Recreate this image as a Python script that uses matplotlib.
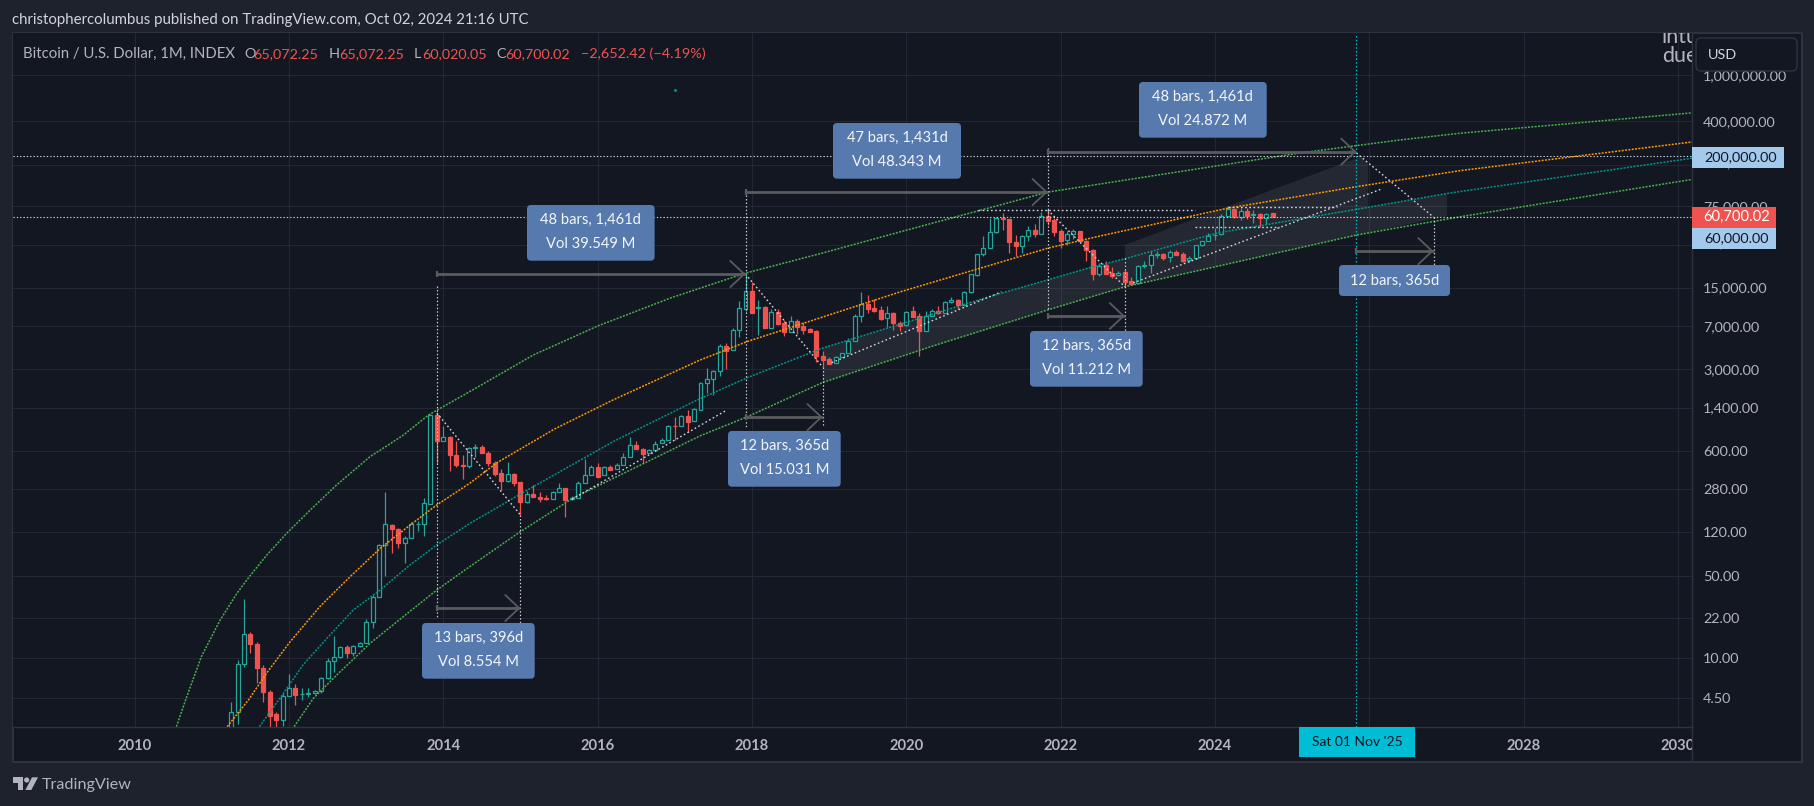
import matplotlib
matplotlib.use("Agg")
import matplotlib.pyplot as plt
from matplotlib.patches import Rectangle, FancyBboxPatch, Polygon, Circle
from matplotlib.transforms import ScaledTranslation

FONT = "Lato"
plt.rcParams["font.family"] = [FONT, "DejaVu Sans"]

# Monthly candles, first bar Apr 2011 (bar index -9, Jan 2012 = 0); one row per year
first_bar = -9
opens = [0.79,3.45,8.8,16,13.2,8.2,5.1,3.3,2.95,
 4.7,5.5,4.87,4.9,4.95,5.15,6.7,9.4,10.2,12.4,11.1,12.6,
 13.5,20.4,33,93,139,128,97,106,140,141,210,1210,
 729,790,544,450,445,626,640,575,472,385,329,375,
 320,216,252,239,233,229,263,285,230,236,314,372,
 430,367,437,414,447,525,670,622,570,610,690,740,
 975,970,1190,1070,1340,2300,2450,2890,4730,4350,6500,9870,
 13980,10100,10300,6800,9180,7400,6270,7700,7000,6600,6300,3900,
 3680,3400,3800,4100,5200,8570,10780,9950,9600,8300,9050,7500,
 7100,9350,8550,6400,8600,9450,9100,11300,11650,10700,13700,19400,
 29000,33000,45000,58800,57800,36700,34300,41400,47000,43600,61500,57000,
 46300,38500,43000,45500,37700,31800,19700,23300,20000,19400,20500,17200,
 16500,23100,23400,28400,29200,27200,30500,29200,25900,26900,34600,37700,
 42300,43000,61500,71000,60500,67700,62700,64700,58900,65072.25]
highs = [4.17,9.6,32,16.6,13.6,8.7,5.3,3.4,4.95,
 7.3,6.0,5.5,5.5,5.25,6.8,9.9,15.4,12.6,12.9,12.9,13.7,
 21.5,34.3,95,264,141,130,111,145,150,233,1230,1230,
 983,800,729,547,640,683,666,590,490,420,475,385,
 325,270,304,263,247,270,314,285,245,330,505,450,
 470,445,450,470,570,780,720,630,620,730,770,1000,
 1155,1200,1330,1390,2320,3040,2950,4950,5030,6700,11500,19590,
 16800,11700,10500,9800,9900,7900,8540,8000,7540,6800,6500,4290,
 3800,3850,4150,5500,8900,13740,12950,12000,10500,10400,9300,7700,
 9500,10500,9000,9500,9900,10400,11400,12500,12000,13900,19800,29300,
 41500,59600,61000,65100,58500,42000,42000,50500,52800,66300,69300,59000,
 47500,45700,48000,46000,38500,32300,24300,25300,22500,20900,21400,18400,
 23300,25300,30800,30700,29700,31300,31500,30200,28000,35100,38000,44000,
 48500,64000,74700,72500,72000,71800,69900,65500,66000,65072.25]
lows = [2.4,2.7,8.4,11,6.1,4.2,2.3,2.3,2.6,
 4.7,3.9,4.35,4.6,4.9,5.0,6.6,7.6,10,9.9,10.4,12.4,
 13.4,18,33,50.6,80,88,65,106,123,111,210,466,
 729,404,435,344,422,525,568,442,365,275,320,300,
 168,212,239,215,228,229,263,162,228,236,314,372,
 358,367,405,414,447,525,615,470,570,610,690,740,
 735,970,870,1070,1340,1860,1800,2600,3000,4350,5620,9400,
 9000,5880,6750,6800,7200,5740,6270,5980,6000,6200,3480,3150,
 3340,3400,3800,4100,5200,7540,9140,9300,7900,6900,6500,6400,
 7000,8450,3900,6400,8500,8900,9000,11000,9800,10500,13500,19000,
 28000,33000,44500,46800,29900,28000,29500,37500,40400,43400,51500,41500,
 32700,34500,39000,37000,25300,17400,19000,19500,18000,18900,15200,16000,
 16300,21900,19900,26800,25900,24900,28300,25000,24900,26500,34400,37500,
 38500,42000,60000,59600,57000,58500,54000,49900,53000,60020.05]
closes = [3.45,8.8,16,13.2,8.1,5.1,3.2,2.93,4.7,
 5.5,4.8,4.9,5.0,5.18,6.7,9.4,10.2,12.4,11.1,12.6,13.5,
 20.2,33,92.3,140,128,97,106,140,141,211,1210,729,
 790,544,450,445,626,640,573,472,380,329,375,314,
 215,252,239,230,230,263,285,226,237,314,372,430,
 358,437,410,447,525,665,615,560,608,688,740,975,
 965,1190,1060,1350,2300,2450,2890,4730,4290,6500,9950,13980,
 9120,10200,6750,9180,7280,6270,7700,6920,6510,6200,3880,3570,
 3340,3780,4100,5200,8590,10780,9820,9450,8000,9030,7400,7020,
 9300,8450,6340,8590,9390,9030,11200,11650,10680,13640,19470,28900,
 32900,44700,59600,57600,37000,34300,41200,46600,43200,61300,56300,45300,
 37600,42900,45800,37600,31200,19600,23100,19700,18900,20100,16700,16200,
 23000,23400,28300,29200,26900,30400,28500,25300,26700,34600,37400,41700,
 42600,61600,70600,60000,67700,62000,64500,59000,63600,60700.02]

# Fitted curves (bar index, price)
top_x = [-17.5,-15.9,-13.6,-10.7,-8.1,-6.3,-3.5,-0.36,3.3,7.4,12.6,17.8,21.7,28.1,38,48,59.5,71,83,95,118,130.3,157.2,172.8,182.1,218.2]
top_p = [2.57,4.64,10.3,21.1,35.7,48.6,75.6,117,185,304,531,814,1211,1920,3960,7020,12300,19950,29700,45000,98800,126000,214000,277000,316000,473000]
orange_x = [-9.6,-6.3,-3.5,0.16,4.8,9.5,14.2,18.8,23,28.1,32.3,41.3,50.4,63.9,71.2,95,118.1,126.1,145.8,166,182.1,218.2]
orange_p = [2.57,4.35,7.36,13.7,27.5,49.6,87,137,205,314,470,918,1630,3580,5150,13750,32750,41500,71600,110000,151000,266000]
teal_x = [-4.6,-1.4,2.2,5.9,10,14.2,18.8,23,28.1,37.9,50.7,63.5,71.2,83,108,125,130,144.3,166,180.6,218.2]
teal_p = [2.57,4.5,8.7,14.7,25.7,38.2,62.5,93,142,292,729,1630,2520,4540,12100,22600,26500,44000,70400,97200,193000]
low_x = [0.8,3.8,7.4,12.6,17.8,23,28.1,35.9,44.2,63.9,71.2,83,100.5,118,130,141.7,166,182.1,218.2]
low_p = [2.57,4.5,7.1,13.3,22.6,38.2,60.5,120,235,800,1165,2300,4800,9640,15240,21150,42300,60700,127000]

# Shaded channels
band_a_x = [130,166.6,167.8,167.8,144.3,130]
band_a_p = [34800,198000,176000,72000,44000,26500]
band_b_x = [130,144.3,166,180.1,180.1,166,141.7,130]
band_b_p = [26500,44000,70400,96000,61500,42300,21150,15240]
band_c_x = [83,108,125,130,130,118,100.5,83]
band_c_p = [4540,12100,22600,26500,15240,9640,4800,2300]

# Date-range arrows (start bar, end bar, price)
arrows = [(23,36,26.7),(23,71,19600),(71,83,1160),(71,118,98900),(118,130,8560),(118,166,220000),(166,178,30800)]
# Vertical dotted guides (bar, price from, price to)
guides = [(23,15400,22.4),(71,93100,955),(118,236000,9620),(83,3120,973),(36,168,17.4),(130,26800,5900),(178,60400,21150)]
# Dotted segments (bar, price, bar, price)
segments = [(23,1260,36,168),(71,19600,83,3120),(118,69300,130,15240),(166,214000,178,60400),
            (44,229,68.1,1335),(84.4,3400,110.8,13800),(131.3,16450,169.9,105000),
            (107.2,69300,140.9,69300),(146,74000,163,74000),(140.9,49300,153.9,49300)]
h_levels = [200000,60000]
marker_bar = 166
stray_bar, stray_price = 60, 745000

# Measure labels (text, left, top, right, bottom px)
boxes = [("48 bars, 1,461d","Vol 39.549 M",527,205,654.6,260.7),
         ("13 bars, 396d","Vol 8.554 M",422,623,534.7,678.7),
         ("12 bars, 365d","Vol 15.031 M",728,431,840.7,486.7),
         ("47 bars, 1,431d","Vol 48.343 M",833,123,961,178.7),
         ("48 bars, 1,461d","Vol 24.872 M",1139,82,1266.7,137.7),
         ("12 bars, 365d","Vol 11.212 M",1030,331,1142.7,386.7),
         ("12 bars, 365d",None,1339,265,1450,296)]

price_ticks = [4.5,10,22,50,120,280,600,1400,3000,7000,15000,35000,75000,170000,400000,1000000]
year_ticks = [-24,0,24,48,72,96,120,144,168,192,216]
year_labels = ["2010","2012","2014","2016","2018","2020","2022","2024","2026","2028","2030"]

W, H = 1815, 806
BG, PANEL, GRID, LINE = "#1e222d", "#131722", "#232733", "#2f3340"
TEAL, RED = "#26a69a", "#ef5350"
fig = plt.figure(figsize=(W/100, H/100), dpi=100, facecolor=BG)

def fx(x): return x/W
def fy(y): return 1-y/H
def frect(x0,y0,x1,y1,**k):
    r = Rectangle((fx(x0),fy(y1)),(x1-x0)/W,(y1-y0)/H,transform=fig.transFigure,**k)
    fig.add_artist(r); return r

frect(13,33,1802,762,facecolor=PANEL,edgecolor=LINE,lw=1.4,zorder=-1)
ax = fig.add_axes([fx(13),fy(727),(1692-13)/W,(727-33)/H],facecolor=PANEL)
ax.set_yscale("log")
ax.set_xlim(-42.92,218.2)
ax.set_ylim(2.55,2.29e6)
for s in ("top","left"): ax.spines[s].set_visible(False)
for s in ("right","bottom"):
    ax.spines[s].set_color(LINE); ax.spines[s].set_linewidth(1)
ax.set_yticks(price_ticks)
ax.set_yticklabels([f"{v:,.2f}" for v in price_ticks])
ax.minorticks_off()
ax.set_xticks(year_ticks); ax.set_xticklabels(year_labels)
ax.yaxis.tick_right()
ax.tick_params(axis="y",length=0,pad=7.9,labelsize=10.4,labelcolor="#b2b5be")
ax.tick_params(axis="x",length=0,pad=9,labelsize=10.6,labelcolor="#b2b5be")
for t in ax.get_xticklabels(): t.set_fontweight("bold")
for t in ax.get_yticklabels(): t.set_ha("left")
# the two labels tucked behind the price tags sit a little higher
for tick,v in zip(ax.yaxis.get_major_ticks(),price_ticks):
    if v in (35000,170000):
        tick.label2.set_transform(tick.label2.get_transform()+ScaledTranslation(0,2.5/100,fig.dpi_scale_trans))
ax.grid(True,color=GRID,lw=0.8)
ax.set_axisbelow(True)

# bands
for bx,bp in ((band_a_x,band_a_p),(band_b_x,band_b_p),(band_c_x,band_c_p)):
    ax.fill(bx,bp,facecolor="#ffffff",alpha=0.075,edgecolor="none",zorder=1.2)

# candles
bars = list(range(first_bar,first_bar+len(opens)))
for i,o,h,l,c in zip(bars,opens,highs,lows,closes):
    up = c>=o
    col = TEAL if up else RED
    ax.vlines(i,l,h,color=col,lw=0.9,zorder=2.5)
    ax.bar(i,abs(c-o),bottom=min(o,c),width=0.62,
           facecolor=PANEL if up else RED,edgecolor=col,lw=0.9,zorder=2.6)

# curves
dash=(0,(1.3,0.9))
ax.plot(top_x,top_p,color="#4caf50",lw=1.1,ls=dash,zorder=3)
ax.plot(orange_x,orange_p,color="#ff9800",lw=1.1,ls=dash,zorder=3)
ax.plot(teal_x,teal_p,color="#009688",lw=1.1,ls=dash,zorder=3)
ax.plot(low_x,low_p,color="#4caf50",lw=1.1,ls=dash,zorder=3)

# dotted guides
dot=(0,(1.2,1.8))
WH="#d1d4dc"
for lv in h_levels:
    ax.axhline(lv,color=WH,lw=0.8,ls=dot,zorder=3.2)
ax.axvline(marker_bar,color="#00bcd4",lw=0.9,ls=dot,zorder=3.2)
for b,p0,p1 in guides:
    ax.plot([b,b],[p0,p1],color=WH,lw=0.85,ls=dot,zorder=3.2)
for a,pa,b,pb in segments:
    ax.plot([a,b],[pa,pb],color=WH,lw=1.0,ls=dot,zorder=3.2)

# arrows
AC="#595b5e"
for a,b,p in arrows:
    ax.plot([a,b],[p,p],color=AC,lw=2.0,solid_capstyle="butt",zorder=3.4)
    ax.plot([a],[p],marker="|",ms=4,mew=1.6,color=AC,zorder=3.4)
    ax.annotate("",xy=(b,p),xytext=(b-1,p),
        arrowprops=dict(arrowstyle="->,head_length=10,head_width=9.4",mutation_scale=1,
                        color=AC,lw=1.3,shrinkA=0,shrinkB=0),zorder=3.4)

ax.plot([stray_bar],[stray_price],ls="none",marker="s",ms=1,color="#009688",zorder=3)

# watermark text inside chart, clipped by pane
for s,yy in (("intuit",43),("due",62)):
    t=ax.text(fx(1662),fy(yy),s,transform=fig.transFigure,fontsize=15.5,color="#b2b5be",
              va="baseline",ha="left",clip_on=True,zorder=3)
    t.set_clip_path(ax.patch)

# measure boxes
def ftext(x,y,s,**k):
    k.setdefault("va","center"); k.setdefault("zorder",8)
    return fig.text(fx(x),fy(y),s,**k)
for l1,l2,x0,y0,x1,y1 in boxes:
    r=FancyBboxPatch((x0+3,H-y1+3),x1-x0-6,y1-y0-6,boxstyle="round,pad=3,rounding_size=4",
        transform=None,facecolor="#5679ae",edgecolor="none",zorder=7)
    fig.add_artist(r)
    cx=(x0+x1)/2
    if l2:
        ftext(cx,y0+15,l1,color="#f4f6fa",fontsize=10.6,ha="center")
        ftext(cx,y0+39,l2,color="#f4f6fa",fontsize=10.6,ha="center")
    else:
        ftext(cx,(y0+y1)/2,l1,color="#f4f6fa",fontsize=10.6,ha="center")

# price pane overlays
frect(1692.5,728,1801,761,facecolor=PANEL,edgecolor="none",zorder=5)
fig.add_artist(plt.Line2D([fx(1692)]*2,[fy(727),fy(762)],color=LINE,lw=1,zorder=5.5))
frect(1692,146.7,1784,168,facecolor="#a3c9ec",edgecolor="none",zorder=6)
ftext(1704,157.3,"200,000.00",color="#131722",fontsize=10.4)
frect(1692,228,1776,249,facecolor="#a3c9ec",edgecolor="none",zorder=6)
ftext(1704,238,"60,000.00",color="#131722",fontsize=10.4)
frect(1692,207,1776,228,facecolor=RED,edgecolor="none",zorder=6)
ftext(1703,217.3,"60,700.02",color="#ffffff",fontsize=10.6)
fig.add_artist(FancyBboxPatch((1699,H-68),95,27,boxstyle="round,pad=3,rounding_size=5",transform=None,
    facecolor=PANEL,edgecolor=LINE,lw=1,zorder=6))
ftext(1708,55,"USD",color="#d1d4dc",fontsize=10.4)

# date tag
frect(1299,727,1415,757,facecolor="#00bcd4",edgecolor="none",zorder=6)
ftext(1357,742,"Sat 01 Nov '25",color="#131722",fontsize=10.0,ha="center")

# header and legend
ftext(12,20,"christophercolumbus published on TradingView.com, Oct 02, 2024 21:16 UTC",color="#d1d4dc",fontsize=10.85)
GR,R="#b2b5be",RED
ftext(23,53.7,"Bitcoin / U.S. Dollar, 1M, INDEX",color=GR,fontsize=10.7)
for x,s,c in ((244,"O",GR),(253.6,"65,072.25",R),(329,"H",GR),(339,"65,072.25",R),
              (414,"L",GR),(422,"60,020.05",R),(496,"C",GR),(505.6,"60,700.02",R),(580.6,"−2,652.42 (−4.19%)",R)):
    ftext(x,53.7,s,color=c,fontsize=10.4)

# footer logo
P=lambda pts:[(fx(a/3),fy(760+b/3)) for a,b in pts]
LG="#b2b5be"
fig.add_artist(Polygon(P([(38,52),(70,52),(70,90),(54,90),(54,68),(38,68)]),transform=fig.transFigure,facecolor=LG,edgecolor="none",zorder=6))
fig.add_artist(Circle((80/3,H-(760+60/3)),2.6,transform=None,facecolor=LG,edgecolor="none",zorder=6))
fig.add_artist(Polygon(P([(114,52),(96,52),(76,90),(94,90)]),transform=fig.transFigure,facecolor=LG,edgecolor="none",zorder=6))
ftext(42,785,"TradingView",color=LG,fontsize=11.6)

fig.savefig("out.png",dpi=100,facecolor=BG)
